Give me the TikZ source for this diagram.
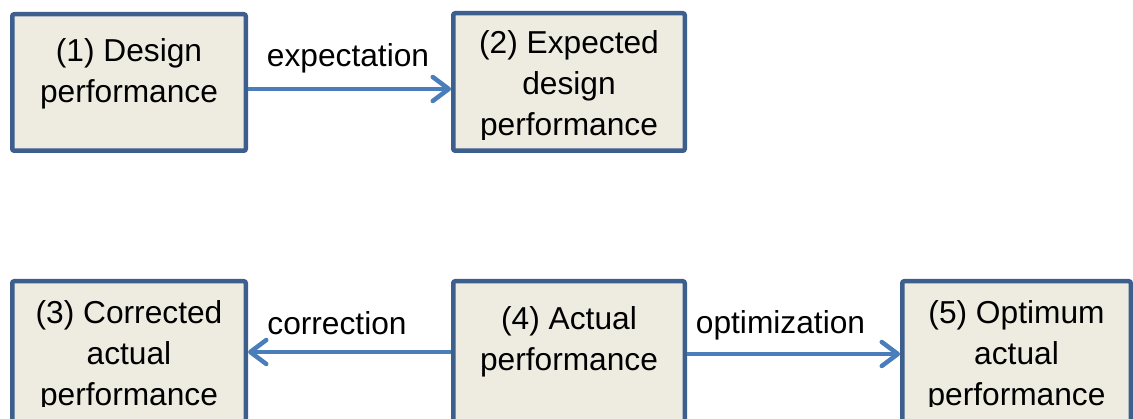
\documentclass[tikz,border=0pt]{standalone}
\usepackage{fontspec}
\setmainfont{Liberation Sans}
\usetikzlibrary{arrows.meta}
\definecolor{boxline}{HTML}{3C5F8E}
\definecolor{boxfill}{HTML}{EEECE1}
\definecolor{arrline}{HTML}{4A7EBB}
\begin{document}
\begin{tikzpicture}[x=1pt,y=-1pt,
  boxnode/.style={draw=boxline, fill=boxfill, line width=4.5pt, rounded corners=2pt, inner sep=0pt},
  txt/.style={font=\fontsize{31.7}{41}\selectfont, align=center, inner sep=0pt, text=black},
  lbl/.style={font=\fontsize{31.7}{41}\selectfont, inner sep=0pt, anchor=base, text=black},
  arr/.style={draw=arrline, line width=4.5pt, -{Straight Barb[round,length=16pt,width=24pt]}}]
\useasboundingbox (0,0) rectangle (1133,419);
\clip (0,0) rectangle (1133,419);
% boxes
\node[boxnode, minimum width=233.5pt, minimum height=136.5pt] (b1) at (129,82.5) {};
\node[boxnode, minimum width=231.5pt, minimum height=137.5pt] (b2) at (569,82) {};
\node[boxnode, minimum width=233.5pt, minimum height=156.5pt] (b3) at (129,359.5) {};
\node[boxnode, minimum width=231.5pt, minimum height=156.5pt] (b4) at (569,359.5) {};
\node[boxnode, minimum width=228.5pt, minimum height=156.5pt] (b5) at (1016.5,359.5) {};
% texts
\node[txt] (t1) at (129,73.35) {\strut(1) Design\\\strut performance};
\begin{scope}
  \clip (455,14) rectangle (684,139.5);
  \node[txt] (t2) at (569,86.35) {\strut(2) Expected\\\strut design\\\strut performance};
\end{scope}
\begin{scope}
  \clip (14,283) rectangle (244,406.7);
  \node[txt] (t3) at (129,356.35) {\strut(3) Corrected\\\strut actual\\\strut performance};
\end{scope}
\node[txt] (t4) at (569,341.85) {\strut(4) Actual\\\strut performance};
\begin{scope}
  \clip (904,283) rectangle (1129,406.7);
  \node[txt] (t5) at (1016.5,356.35) {\strut(5) Optimum\\\strut actual\\\strut performance};
\end{scope}
% connectors
\draw[arr] ([yshift=-6.5pt]b1.east) -- ([yshift=-6.5pt]b1.east -| b2.west);
\draw[arr] ([yshift=7.5pt]b4.west) -- ([yshift=7.5pt]b4.west -| b3.east);
\draw[arr] ([yshift=5.5pt]b4.east) -- ([yshift=5.5pt]b4.east -| b5.west);
% labels
\node[lbl] (l1) at (348,66.7) {expectation};
\node[lbl] (l2) at (337,335) {correction};
\node[lbl] (l3) at (780.5,334) {optimization};
\end{tikzpicture}
\end{document}
